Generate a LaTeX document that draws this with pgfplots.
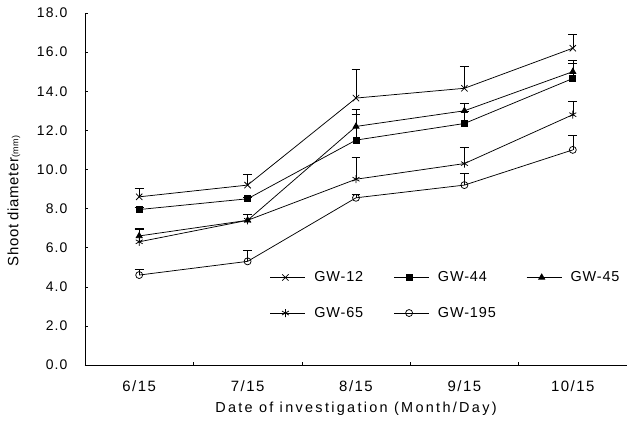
\documentclass[border=0pt]{standalone}
\usepackage{pgfplots}
\pgfplotsset{compat=1.18}
\usepackage{fontspec}
\setmainfont{Liberation Sans}
\newfontfamily\yspaced[LetterSpace=8]{Liberation Sans}
\newfontfamily\xspaced[LetterSpace=10]{Liberation Sans}
\newfontfamily\labspaced[LetterSpace=16]{Liberation Sans}
\newfontfamily\lspaced[LetterSpace=6]{Liberation Sans}
\newfontfamily\ylspaced[LetterSpace=4]{Liberation Sans}
\begin{document}
\begin{tikzpicture}[x=1bp,y=1bp]
\useasboundingbox (-85,-56) rectangle (542,365);
\begin{axis}[
  at={(0,0)}, anchor=south west,
  scale only axis, width=542bp, height=352bp,
  xmin=-0.5, xmax=4.5, ymin=0, ymax=18,
  axis lines=left, axis line style={-, line width=0.8pt},
  xtick={0,1,2,3,4}, xticklabels={6/15,7/15,8/15,9/15,10/15},
  major x tick style={draw=none},
  minor xtick={0.5,1.5,2.5,3.5},
  ytick={0,2,...,18},
  tick align=inside, major tick length=3pt, minor tick length=3pt,
  tick style={line width=0.4pt, black},
  /pgf/number format/assume math mode=true,
  yticklabel style={/pgf/number format/fixed, /pgf/number format/zerofill, /pgf/number format/precision=1, font=\yspaced\fontsize{14}{16}\selectfont, xshift=-14bp},
  xticklabel style={font=\xspaced\fontsize{15}{17}\selectfont, yshift=-12bp},
  xlabel={Date of investigation (Month/Day)},
  xlabel style={font=\labspaced\fontsize{14.5}{16}\selectfont, yshift=-4bp},
  ylabel={Shoot diameter{\fontsize{9}{10}\selectfont(mm)}},
  ylabel style={font=\ylspaced\fontsize{15}{17}\selectfont, yshift=10bp, xshift=-12bp},
  legend columns=3,
  legend cell align=left,
  legend style={draw=none, fill=none, inner sep=0pt, at={(0.341,0.27)}, anchor=north west,
    font=\lspaced\fontsize{14.5}{16}\selectfont, row sep=21bp,
    nodes={inner sep=1.5bp},
    /tikz/every even column/.append style={column sep=29bp},
    /tikz/every odd column/.append style={column sep=7bp}},
  legend image code/.code={\draw[#1, mark=none] (0bp,0bp) -- (35bp,0bp); \draw[#1, only marks] plot coordinates {(15bp,0bp)};},
  every axis plot/.append style={black, line width=0.75pt, mark options={solid, line width=0.75pt, fill=black}},
  error bars/y dir=plus, error bars/y explicit,
  error bars/error mark options={rotate=90, mark size=4.5pt, line width=0.6pt},
  error bars/error bar style={line width=0.6pt},
]
\addplot[mark=x, mark size=4.5pt] coordinates {(0,8.6) +- (0,0.45) (1,9.2) +- (0,0.55) (2,13.65) +- (0,1.45) (3,14.15) +- (0,1.15) (4,16.2) +- (0,0.7)};
\addlegendentry{GW-12}
\addplot[mark=square*, mark size=3pt] coordinates {(0,7.95) +- (0,0.1) (1,8.5) +- (0,0.1) (2,11.5) +- (0,1.3) (3,12.35) +- (0,0.6) (4,14.65) +- (0,0.8)};
\addlegendentry{GW-44}
\addplot[mark=triangle*, mark size=3.5pt] coordinates {(0,6.6) +- (0,0.4) (1,7.4) +- (0,0.3) (2,12.2) +- (0,0.9) (3,13.0) +- (0,0.4) (4,15.0) +- (0,0.6)};
\addlegendentry{GW-45}
\addplot[mark=asterisk, mark size=4pt] coordinates {(0,6.3) +- (0,0.65) (1,7.4) +- (0,0.3) (2,9.5) +- (0,1.1) (3,10.3) +- (0,0.85) (4,12.8) +- (0,0.7)};
\addlegendentry{GW-65}
\addplot[mark=o, mark size=3.5pt, mark options={fill=white}] coordinates {(0,4.6) +- (0,0.3) (1,5.3) +- (0,0.55) (2,8.55) +- (0,0.2) (3,9.2) +- (0,0.6) (4,11.0) +- (0,0.75)};
\addlegendentry{GW-195}
\end{axis}
\end{tikzpicture}
\end{document}
